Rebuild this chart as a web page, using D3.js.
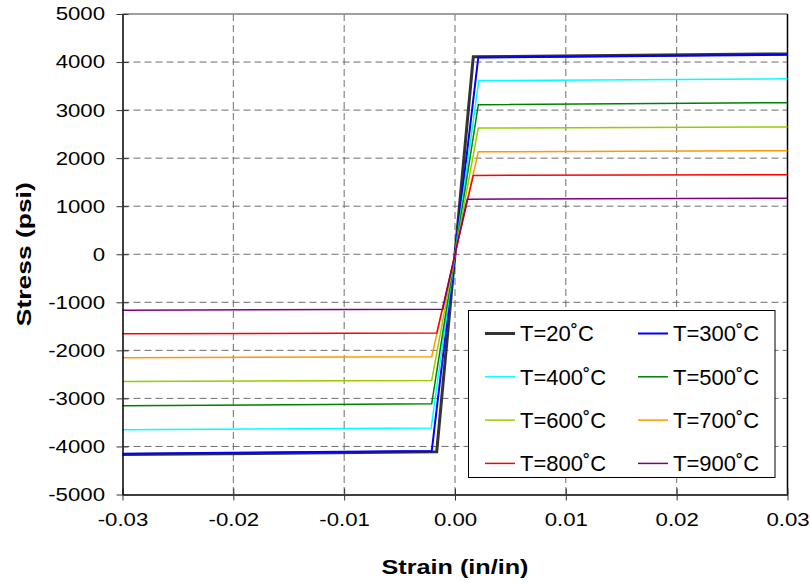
<!DOCTYPE html>
<html><head><meta charset="utf-8">
<script src="https://cdn.jsdelivr.net/npm/d3@7"></script>
<style>body{margin:0;background:#fff} svg{display:block} text{font-family:"Liberation Sans",Arial,sans-serif;fill:#000}</style>
</head><body>
<svg id="c" width="810" height="585"></svg>
<script>
const xTicks = [-0.03, -0.02, -0.01, 0, 0.01, 0.02, 0.03];
const xTickLabels = ["-0.03", "-0.02", "-0.01", "0.00", "0.01", "0.02", "0.03"];
const yTicks = [-5000, -4000, -3000, -2000, -1000, 0, 1000, 2000, 3000, 4000, 5000];
const yTickLabels = ["-5000", "-4000", "-3000", "-2000", "-1000", "0", "1000", "2000", "3000", "4000", "5000"];
const seriesNames = ["T=20˚C", "T=300˚C", "T=400˚C", "T=500˚C", "T=600˚C", "T=700˚C", "T=800˚C", "T=900˚C"];
const seriesColors = ["#333333", "#0000ff", "#00ffff", "#008000", "#99cc00", "#ff9900", "#ff0000", "#800080"];
const seriesWidths = [3, 2, 1.5, 1.5, 1.5, 1.5, 1.5, 1.5];
const strainPts = [
  [-0.03, -0.00165, 0.00165, 0.03],
  [-0.03, -0.0021, 0.0021, 0.03],
  [-0.03, -0.00215, 0.00215, 0.03],
  [-0.03, -0.0021, 0.0021, 0.03],
  [-0.03, -0.0021, 0.0021, 0.03],
  [-0.03, -0.0021, 0.0021, 0.03],
  [-0.03, -0.00165, 0.00165, 0.03],
  [-0.03, -0.0011, 0.0011, 0.03]
];
const stressPts = [
  [-4170, -4110, 4110, 4170],
  [-4150, -4095, 4095, 4150],
  [-3650, -3615, 3615, 3650],
  [-3155, -3110, 3110, 3155],
  [-2650, -2625, 2625, 2650],
  [-2155, -2133, 2133, 2155],
  [-1655, -1640, 1640, 1655],
  [-1165, -1145, 1145, 1165]
];

const L = 122.5, R = 787.5, T = 14, B = 494.5;
const svg = d3.select("#c");
const x = d3.scaleLinear().domain([-0.03, 0.03]).range([L, R]);
const y = d3.scaleLinear().domain([-5000, 5000]).range([B, T]);

function stretch(sel, factor) {
  sel.each(function () {
    const w = this.getComputedTextLength();
    this.setAttribute("textLength", w * factor);
    this.setAttribute("lengthAdjust", "spacingAndGlyphs");
  });
}

// gridlines
const grid = svg.append("g");
grid.selectAll("line.gx").data(xTicks.filter(d => d > -0.03 && d < 0.03)).enter().append("line")
  .attr("x1", d => x(d)).attr("x2", d => x(d)).attr("y1", T).attr("y2", B)
  .attr("stroke", "#6e6e6e").attr("stroke-width", 1).attr("stroke-dasharray", "7,4");
grid.selectAll("line.gy").data(yTicks.filter(d => d > -5000 && d < 5000)).enter().append("line")
  .attr("y1", d => y(d)).attr("y2", d => y(d)).attr("x1", L).attr("x2", R)
  .attr("stroke", "#6e6e6e").attr("stroke-width", 1).attr("stroke-dasharray", "7,4");

// plot border top/right
svg.append("line").attr("x1", L).attr("x2", R).attr("y1", T).attr("y2", T).attr("stroke", "#808080").attr("stroke-width", 1.5);
svg.append("line").attr("x1", R).attr("x2", R).attr("y1", T).attr("y2", B).attr("stroke", "#000").attr("stroke-width", 1.5);

// series
const line = d3.line().x(d => x(d[0])).y(d => y(d[1]));
seriesNames.forEach((n, i) => {
  const pts = strainPts[i].map((s, j) => [s, stressPts[i][j]]);
  svg.append("path").attr("d", line(pts)).attr("fill", "none")
    .attr("stroke", seriesColors[i]).attr("stroke-width", seriesWidths[i]);
});

// axes
const xAxis = svg.append("g").attr("transform", `translate(0,${B})`)
  .call(d3.axisBottom(x).tickValues(xTicks).tickFormat((d, i) => xTickLabels[i]).tickSizeInner(6).tickSizeOuter(0).tickPadding(12.5));
xAxis.select(".domain").attr("stroke", "#000").attr("stroke-width", 1.5);
xAxis.selectAll(".tick line").attr("y1", -6).attr("y2", 6).attr("stroke", "#333");
xAxis.selectAll(".tick text").attr("font-size", 18.5).attr("font-family", "Liberation Sans, Arial, sans-serif").call(stretch, 1.2);

const yAxis = svg.append("g").attr("transform", `translate(${L},0)`)
  .call(d3.axisLeft(y).tickValues(yTicks).tickFormat((d, i) => yTickLabels[i]).tickSizeInner(6).tickSizeOuter(0).tickPadding(11.5));
yAxis.select(".domain").attr("stroke", "#000").attr("stroke-width", 1.5);
yAxis.selectAll(".tick line").attr("x1", -6).attr("x2", 6).attr("stroke", "#333");
yAxis.selectAll(".tick text").attr("font-size", 18.5).attr("font-family", "Liberation Sans, Arial, sans-serif").call(stretch, 1.2);

// axis titles
svg.append("text").attr("x", (L + R) / 2).attr("y", 573.5).attr("text-anchor", "middle")
  .attr("font-size", 21).attr("font-weight", "bold").text("Strain (in/in)")
  .attr("textLength", 147).attr("lengthAdjust", "spacingAndGlyphs");
svg.append("text").attr("transform", `translate(31,${(T + B) / 2}) rotate(-90)`).attr("text-anchor", "middle")
  .attr("font-size", 21).attr("font-weight", "bold").text("Stress (psi)")
  .attr("textLength", 144).attr("lengthAdjust", "spacingAndGlyphs");

// legend
const lg = svg.append("g");
lg.append("rect").attr("x", 468.5).attr("y", 310.5).attr("width", 306.5).attr("height", 167)
  .attr("fill", "#fff").attr("stroke", "#000").attr("stroke-width", 1);
seriesNames.forEach((n, i) => {
  const col = i % 2, row = Math.floor(i / 2);
  const lx = col === 0 ? 485 : 638;
  const ly = 333.5 + row * 43.3;
  lg.append("line").attr("x1", lx).attr("x2", lx + 30).attr("y1", ly).attr("y2", ly)
    .attr("stroke", seriesColors[i]).attr("stroke-width", seriesWidths[i]);
  lg.append("text").attr("x", lx + 35).attr("y", ly).attr("dy", "0.36em")
    .attr("font-size", 22).text(n);
});
</script>
</body></html>
